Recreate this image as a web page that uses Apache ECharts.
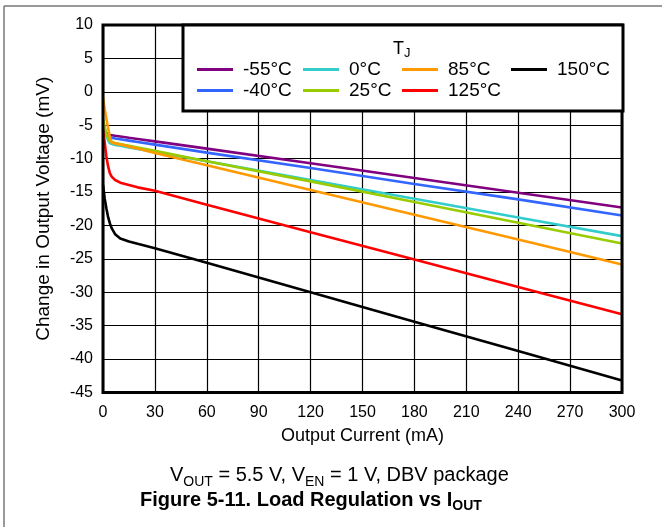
<!DOCTYPE html>
<html><head><meta charset="utf-8">
<script src="https://cdn.jsdelivr.net/npm/echarts@6/dist/echarts.min.js"></script>
<style>html,body{margin:0;padding:0;background:#fff}#c{width:662px;height:527px}</style>
</head><body><div id="c"></div>
<script>
// Output current (mA)
const currents = [0, 1, 2, 3, 4, 5, 7, 10, 15, 20, 30, 60, 120, 180, 240, 300];
// Change in output voltage (mV) per junction temperature
const tNeg55 = [-5.4, -5.9, -6.2, -6.35, -6.45, -6.5, -6.57, -6.68, -6.87, -7.05, -7.42, -8.5, -10.7, -12.9, -15.1, -17.3];
const tNeg40 = [-5.5, -6.1, -6.5, -6.7, -6.82, -6.9, -6.98, -7.1, -7.3, -7.5, -7.9, -9.1, -11.4, -13.8, -16.1, -18.5];
const t0 = [-4.5, -5.6, -6.6, -7.3, -7.7, -7.85, -7.95, -8.08, -8.32, -8.55, -9.0, -10.4, -13.2, -16.0, -18.8, -21.6];
const t25 = [-4.0, -5.3, -6.3, -7.0, -7.4, -7.55, -7.65, -7.8, -8.06, -8.32, -8.84, -10.4, -13.4, -16.5, -19.6, -22.7];
const t85 = [-0.9, -2.6, -4.1, -5.5, -6.8, -7.6, -7.75, -7.9, -8.2, -8.5, -9.15, -11.0, -14.7, -18.4, -22.1, -25.85];
const t125 = [-5.6, -7.6, -9.8, -11.2, -12.2, -12.7, -13.2, -13.6, -13.95, -14.3, -14.8, -16.9, -21.0, -25.1, -29.2, -33.3];
const t150 = [-13.9, -16.0, -17.5, -18.8, -19.7, -20.4, -21.3, -21.95, -22.4, -22.75, -23.4, -25.6, -30.0, -34.4, -38.8, -43.2];

const seriesNames = ['-55°C', '-40°C', '0°C', '25°C', '85°C', '125°C', '150°C'];
const seriesValues = [tNeg55, tNeg40, t0, t25, t85, t125, t150];
const seriesColors = ['#800080', '#3366FF', '#33CCCC', '#99CC00', '#FF9900', '#FF0000', '#000000'];
const xTicks = { min: 0, max: 300, step: 30 };
const yTicks = { min: -45, max: 10, step: 5 };

const FONT = '"Liberation Sans", Arial, sans-serif';

const series = seriesNames.map((n, i) => ({
  name: n, type: 'line', symbol: 'none', smooth: false,
  lineStyle: { color: seriesColors[i], width: 2.6 },
  itemStyle: { color: seriesColors[i] },
  data: currents.map((x, j) => [x, seriesValues[i][j]]),
  z: 3
}));

// legend positions (column-major like reference)
const legendPos = [
  [197, 60], [197, 81], [303, 60], [303, 81], [402, 60], [402, 81], [511, 60]
];
const legends = seriesNames.map((n, i) => ({
  data: [n], left: legendPos[i][0], top: legendPos[i][1], padding: 0,
  icon: 'rect', itemWidth: 36, itemHeight: 3, z: 20,
  selectedMode: false,
  textStyle: { fontFamily: FONT, fontSize: 19, color: '#000', padding: [0, 0, 0, 5] }
}));

const chart = echarts.init(document.getElementById('c'), null, { renderer: 'canvas' });
chart.setOption({
  animation: false,
  backgroundColor: '#fff',
  grid: { left: 103, right: 40, top: 25, bottom: 134.5, show: true, borderColor: '#000', borderWidth: 3, backgroundColor: 'transparent', z: 4 },
  xAxis: {
    type: 'value', min: xTicks.min, max: xTicks.max, interval: xTicks.step,
    name: 'Output Current (mA)', nameLocation: 'middle', nameGap: 35,
    nameTextStyle: { fontFamily: FONT, fontSize: 18, color: '#000' },
    axisLine: { show: false }, axisTick: { show: false },
    axisLabel: { fontFamily: FONT, fontSize: 16, color: '#000', margin: 12 },
    splitLine: { show: true, lineStyle: { color: '#000', width: 1.2 } }
  },
  yAxis: {
    type: 'value', min: yTicks.min, max: yTicks.max, interval: yTicks.step,
    name: 'Change in Output Voltage (mV)', nameLocation: 'middle', nameGap: 50,
    nameTextStyle: { fontFamily: FONT, fontSize: 19, color: '#000' },
    axisLine: { show: false }, axisTick: { show: false },
    axisLabel: { fontFamily: FONT, fontSize: 16, color: '#000', margin: 10 },
    splitLine: { show: true, lineStyle: { color: '#000', width: 1.2 } }
  },
  legend: legends,
  series: series,
  graphic: [
    { type: 'line', z: 1, shape: { x1: 4, y1: 6, x2: 662, y2: 6 }, style: { stroke: '#777', lineWidth: 1.5 } },
    { type: 'line', z: 1, shape: { x1: 4, y1: 6, x2: 4, y2: 527 }, style: { stroke: '#777', lineWidth: 1.5 } },
    { type: 'rect', z: 10, shape: { x: 183, y: 25, width: 440, height: 86 }, style: { fill: '#fff', stroke: '#000', lineWidth: 3 } },
    { type: 'text', z: 21, left: 393, top: 40, style: {
        text: '{t|T}{s|J}', rich: {
          t: { fontFamily: FONT, fontSize: 18, fill: '#000', lineHeight: 22, verticalAlign: 'middle' },
          s: { fontFamily: FONT, fontSize: 13, fill: '#000', lineHeight: 22, verticalAlign: 'bottom' } } } },
    { type: 'text', z: 21, left: 170, top: 465, style: {
        text: '{n|V}{s|OUT}{n| = 5.5 V, V}{s|EN}{n| = 1 V, DBV package}', rich: {
          n: { fontFamily: FONT, fontSize: 20, fill: '#000', lineHeight: 28, verticalAlign: 'middle' },
          s: { fontFamily: FONT, fontSize: 14, fill: '#000', lineHeight: 28, verticalAlign: 'bottom' } } } },
    { type: 'text', z: 21, left: 140, top: 490, style: {
        text: '{n|Figure 5-11. Load Regulation vs I}{s|OUT}', rich: {
          n: { fontFamily: FONT, fontSize: 20, fontWeight: 'bold', fill: '#000', lineHeight: 27, verticalAlign: 'middle' },
          s: { fontFamily: FONT, fontSize: 14, fontWeight: 'bold', fill: '#000', lineHeight: 27, verticalAlign: 'bottom' } } } }
  ]
});
</script></body></html>
